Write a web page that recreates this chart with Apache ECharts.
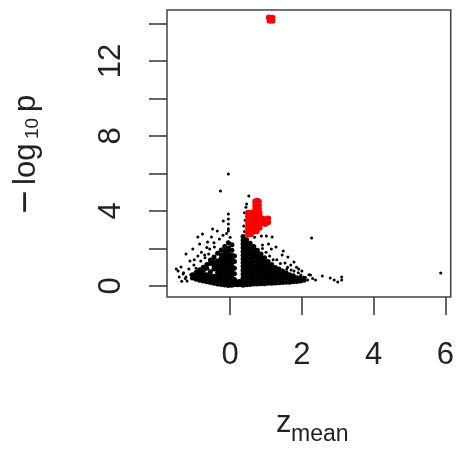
<!DOCTYPE html>
<html>
<head>
<meta charset="utf-8">
<script src="https://cdn.jsdelivr.net/npm/echarts@6/dist/echarts.min.js"></script>
<style>
  html, body { margin: 0; padding: 0; background: #fff; }
  #chart { width: 457px; height: 449px; }
</style>
</head>
<body>
<div id="chart"></div>
<script>
// tick positions
var xTicks = [0, 2, 4, 6];
var yTicks = [0, 2, 4, 6, 8, 10, 12, 14];
var yLabels = [0, 4, 8, 12];

// dense black core of the two lobes (z_mean, -log10 p)
var blackDense = [
  [-1.05,0.42],[-1.05,0.6],
  [-0.95,0.36],[-0.95,0.55],[-0.95,0.72],
  [-0.85,0.3],[-0.85,0.5],[-0.85,0.68],[-0.85,0.86],
  [-0.75,0.26],[-0.75,0.45],[-0.75,0.62],[-0.75,0.8],[-0.75,1.0],
  [-0.65,0.22],[-0.65,0.42],[-0.65,0.6],[-0.65,0.95],[-0.65,1.15],
  [-0.55,0.18],[-0.55,0.38],[-0.55,0.56],[-0.55,0.76],[-0.55,1.2],[-0.55,1.38],
  [-0.45,0.14],[-0.45,0.34],[-0.45,0.52],[-0.45,0.9],[-0.45,1.1],[-0.45,1.3],[-0.45,1.55],
  [-0.35,0.1],[-0.35,0.3],[-0.35,0.5],[-0.35,0.7],[-0.35,0.9],[-0.35,1.1],[-0.35,1.35],[-0.35,1.75],
  [-0.25,0.08],[-0.25,0.26],[-0.25,0.46],[-0.25,0.66],[-0.25,0.86],[-0.25,1.06],[-0.25,1.26],[-0.25,1.46],[-0.25,1.66],[-0.25,1.92],
  [-0.15,0.05],[-0.15,0.25],[-0.15,0.45],[-0.15,0.65],[-0.15,0.85],[-0.15,1.05],[-0.15,1.25],[-0.15,1.45],[-0.15,1.65],[-0.15,1.85],[-0.15,2.1],
  [-0.05,0.02],[-0.05,0.22],[-0.05,0.42],[-0.05,0.62],[-0.05,0.82],[-0.05,1.02],[-0.05,1.22],[-0.05,1.42],[-0.05,1.62],[-0.05,1.82],[-0.05,2.02],[-0.05,2.3],
  [0.05,0.04],[0.05,0.24],[0.05,0.44],[0.05,0.64],[0.05,0.84],[0.05,1.04],[0.05,1.24],[0.05,1.44],[0.05,1.64],[0.05,1.9],[0.05,2.2],
  [0.12,0.08],[0.12,0.35],[0.12,0.65],[0.12,0.95],[0.12,1.3],[0.12,1.6],
  [0.2,0.06],[0.2,0.22],[0.28,0.08],[0.28,0.25],
  [0.36,0.04],[0.36,0.24],[0.36,0.44],[0.36,0.64],[0.36,0.84],[0.36,1.04],[0.36,1.24],[0.36,1.44],[0.36,1.64],[0.36,1.84],[0.36,2.04],[0.36,2.24],[0.36,2.44],[0.36,2.64],
  [0.46,0.06],[0.46,0.26],[0.46,0.46],[0.46,0.66],[0.46,0.86],[0.46,1.06],[0.46,1.26],[0.46,1.46],[0.46,1.66],[0.46,1.86],[0.46,2.06],[0.46,2.26],[0.46,2.46],
  [0.56,0.08],[0.56,0.28],[0.56,0.48],[0.56,0.68],[0.56,0.88],[0.56,1.08],[0.56,1.28],[0.56,1.48],[0.56,1.68],[0.56,1.88],[0.56,2.08],[0.56,2.28],
  [0.66,0.1],[0.66,0.3],[0.66,0.5],[0.66,0.7],[0.66,0.9],[0.66,1.1],[0.66,1.3],[0.66,1.5],[0.66,1.7],[0.66,1.9],[0.66,2.1],
  [0.76,0.1],[0.76,0.3],[0.76,0.5],[0.76,0.7],[0.76,0.9],[0.76,1.1],[0.76,1.3],[0.76,1.5],[0.76,1.7],[0.76,1.9],
  [0.86,0.12],[0.86,0.32],[0.86,0.52],[0.86,0.72],[0.86,0.92],[0.86,1.12],[0.86,1.32],[0.86,1.52],[0.86,1.7],
  [0.96,0.12],[0.96,0.32],[0.96,0.52],[0.96,0.72],[0.96,0.92],[0.96,1.12],[0.96,1.32],[0.96,1.5],
  [1.06,0.14],[1.06,0.34],[1.06,0.54],[1.06,0.74],[1.06,0.94],[1.06,1.14],[1.06,1.3],
  [1.16,0.15],[1.16,0.35],[1.16,0.55],[1.16,0.75],[1.16,0.95],[1.16,1.15],
  [1.26,0.16],[1.26,0.36],[1.26,0.56],[1.26,0.76],[1.26,0.98],
  [1.36,0.17],[1.36,0.37],[1.36,0.57],[1.36,0.77],[1.36,0.9],
  [1.46,0.18],[1.46,0.38],[1.46,0.58],[1.46,0.8],
  [1.56,0.2],[1.56,0.4],[1.56,0.6],[1.56,0.7],
  [1.66,0.2],[1.66,0.4],[1.66,0.6],
  [1.76,0.22],[1.76,0.42],[1.76,0.55],
  [1.86,0.24],[1.86,0.44],
  [1.96,0.26],[1.96,0.42],
  [2.06,0.3]
];

// scattered black points around the lobes
var blackSparse = [
  [-0.05,5.97],[-0.27,5.07],[0.52,4.8],[0.46,4.37],[-0.05,3.84],[-0.05,3.57],[-0.19,3.47],[-0.05,3.3],
  [-0.49,3.04],[-0.36,2.93],[-0.05,2.93],[-0.52,2.61],[-0.9,2.61],[-0.77,2.77],[-0.85,2.24],[-0.63,2.35],
  [-1.04,1.97],[-1.23,1.71],[-1.12,1.33],[-1.01,1.12],[-1.37,1.01],[-1.45,0.8],[-1.31,0.64],[-1.42,0.48],
  [-1.23,0.48],[-1.5,0.91],[-1.2,0.27],[-1.04,0.59],[-0.93,0.8],[-0.82,1.33],[-0.71,1.65],[-0.57,1.97],
  [-0.44,2.08],[-1.3,0.7],[-1.15,0.9],[-1.0,1.4],[-0.9,1.6],[-0.8,1.8],[-0.7,1.5],[-0.6,1.7],
  [-0.95,0.95],[-1.1,0.6],[-1.25,0.4],[-1.35,0.25],[-0.65,2.05],[-0.45,2.3],[-0.3,2.5],[-0.2,2.7],
  [-0.1,2.8],[0.0,2.6],[-0.05,3.05],[0.4,2.9],[0.38,3.2],[0.42,3.5],[0.4,3.9],[0.44,4.2],
  [0.68,2.6],[0.87,2.67],[1.01,2.67],[1.17,2.61],[0.9,2.19],[1.07,2.24],[1.15,1.97],[1.28,2.08],
  [1.48,1.87],[1.45,1.65],[1.61,1.55],[1.53,1.23],[1.69,1.12],[1.78,1.28],[1.58,0.91],[1.78,0.8],
  [1.91,0.91],[1.97,0.59],[2.05,0.48],[2.16,0.32],[2.24,0.59],[2.38,0.32],[2.57,0.53],[2.79,0.43],
  [2.9,0.32],[3.0,0.21],[3.11,0.48],[3.11,0.32],[2.27,2.56],[5.87,0.69],[0.36,2.08],[0.36,1.65],
  [0.41,2.51],[1.3,1.4],[1.4,1.2],[1.6,1.0],[1.7,0.85],[1.9,0.7],[2.0,0.8],[1.85,1.0],
  [2.1,0.45],[2.2,0.6],[2.3,0.4],[0.9,2.0],[1.0,1.8],[1.1,1.6],[1.2,1.4]
];

// significant points
var redPoints = [
  [0.7,4.5],[0.8,4.5],[0.75,4.55],[0.7,4.3],[0.8,4.3],[0.7,4.1],[0.8,4.1],
  [0.5,3.9],[0.58,3.9],[0.66,3.9],[0.74,3.9],[0.82,3.9],
  [0.5,3.7],[0.58,3.7],[0.66,3.7],[0.74,3.7],[0.82,3.7],
  [0.5,3.5],[0.58,3.5],[0.66,3.5],[0.74,3.5],[0.82,3.5],
  [0.5,3.3],[0.58,3.3],[0.66,3.3],[0.74,3.3],[0.82,3.3],
  [0.5,3.1],[0.58,3.1],[0.66,3.1],[0.74,3.1],[0.82,3.1],
  [0.5,2.9],[0.58,2.9],[0.66,2.9],[0.74,2.92],
  [0.5,2.75],[0.58,2.76],
  [0.9,3.35],[0.9,3.6],[0.98,3.3],[0.98,3.55],[1.06,3.4],[1.06,3.6],
  [1.08,14.32],[1.18,14.3],[1.1,14.15],[1.18,14.15]
];

var chart = echarts.init(document.getElementById('chart'));
var font = 'Liberation Sans, Arial, Helvetica, sans-serif';
var ink = '#222';

chart.setOption({
  animation: false,
  backgroundColor: '#fff',
  grid: {
    left: 167, top: 10, right: 2, bottom: 152,
    show: true, borderColor: '#444', borderWidth: 1.5, backgroundColor: 'transparent'
  },
  xAxis: {
    type: 'value', min: -1.76, max: 6.15,
    axisLine: { show: false, onZero: false },
    splitLine: { show: false },
    axisTick: { show: true, length: 18, lineStyle: { color: '#333', width: 1.5 }, customValues: xTicks },
    axisLabel: { color: ink, fontSize: 31, fontFamily: font, margin: 43, customValues: xTicks }
  },
  yAxis: {
    type: 'value', min: -0.59, max: 14.72,
    axisLine: { show: false, onZero: false },
    splitLine: { show: false },
    axisTick: { show: true, length: 18, lineStyle: { color: '#333', width: 1.5 }, customValues: yTicks },
    axisLabel: { color: ink, fontSize: 31, fontFamily: font, margin: 40, rotate: 90, customValues: yLabels }
  },
  series: [
    { type: 'scatter', data: blackDense, symbol: 'circle', symbolSize: 5, itemStyle: { color: '#000', opacity: 1 }, silent: true },
    { type: 'scatter', data: blackSparse, symbol: 'circle', symbolSize: 3, itemStyle: { color: '#000', opacity: 1 }, silent: true },
    { type: 'scatter', data: redPoints, symbol: 'circle', symbolSize: 6, itemStyle: { color: '#ff0000', opacity: 1 }, silent: true }
  ],
  graphic: [
    { type: 'text', x: 276, y: 423, style: { text: 'z', fontSize: 31, fontFamily: font, fill: ink, textAlign: 'left', textVerticalAlign: 'middle' } },
    { type: 'text', x: 291, y: 435, style: { text: 'mean', fontSize: 23, fontFamily: font, fill: ink, textAlign: 'left', textVerticalAlign: 'middle' } },
    { type: 'text', x: 27, y: 202, rotation: Math.PI / 2, style: { text: '\u2212', fontSize: 40, fontFamily: font, fill: ink, textAlign: 'center', textVerticalAlign: 'middle' } },
    { type: 'text', x: 26, y: 185, rotation: Math.PI / 2, style: { text: 'log', fontSize: 31, fontFamily: font, fill: ink, textAlign: 'left', textVerticalAlign: 'middle' } },
    { type: 'text', x: 33, y: 139, rotation: Math.PI / 2, style: { text: '10', fontSize: 19, fontFamily: font, fill: ink, textAlign: 'left', textVerticalAlign: 'middle' } },
    { type: 'text', x: 26, y: 112, rotation: Math.PI / 2, style: { text: 'p', fontSize: 31, fontFamily: font, fill: ink, textAlign: 'left', textVerticalAlign: 'middle' } }
  ]
});
</script>
</body>
</html>
